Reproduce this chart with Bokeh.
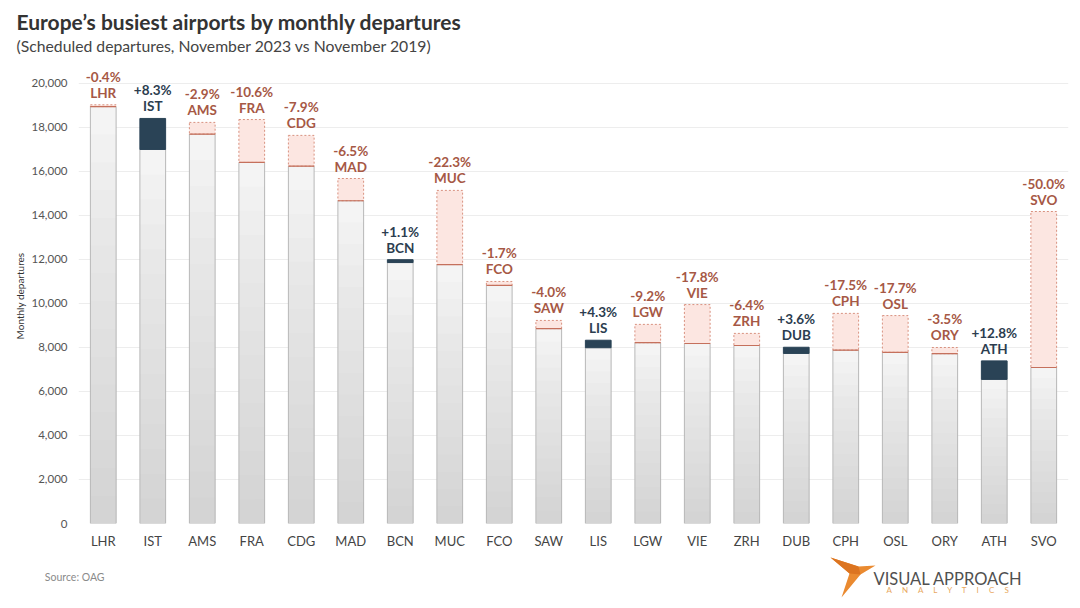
from bokeh.plotting import figure
from bokeh.layouts import column
from bokeh.models import FactorRange, Range1d, FixedTicker, NumeralTickFormatter, Title
from bokeh.core.properties import value
from bokeh.embed import file_html
from bokeh.resources import INLINE

airports = ["LHR", "IST", "AMS", "FRA", "CDG", "MAD", "BCN", "MUC", "FCO", "SAW",
            "LIS", "LGW", "VIE", "ZRH", "DUB", "CPH", "OSL", "ORY", "ATH", "SVO"]
dep_2019 = [19030, 17000, 18230, 18360, 17640, 15680, 11860, 15140, 11000, 9230,
            7990, 9050, 9950, 8640, 7730, 9550, 9450, 8000, 6550, 14180]
dep_2023 = [18950, 18410, 17700, 16410, 16240, 14670, 11990, 11770, 10820, 8860,
            8330, 8220, 8180, 8090, 8010, 7880, 7780, 7720, 7390, 7090]
pct_labels = ["-0.4%", "+8.3%", "-2.9%", "-10.6%", "-7.9%", "-6.5%", "+1.1%", "-22.3%", "-1.7%", "-4.0%",
              "+4.3%", "-9.2%", "-17.8%", "-6.4%", "+3.6%", "-17.5%", "-17.7%", "-3.5%", "+12.8%", "-50.0%"]
y_ticks = [0, 2000, 4000, 6000, 8000, 10000, 12000, 14000, 16000, 18000, 20000]

FONT = value("Lato")
RED_TXT = "#a65845"
NAVY_TXT = "#2c3d4f"
NAVY = "#2a4356"
W = 0.52
FIG_W = 1072
LEFT, RIGHT = 78, 4

p = figure(width=FIG_W, height=552, x_range=FactorRange(*airports), y_range=Range1d(0, 20680),
           output_backend="svg", toolbar_location=None,
           min_border_left=LEFT, min_border_right=RIGHT, min_border_top=68, min_border_bottom=29)
p.outline_line_color = None
p.xgrid.grid_line_color = None
p.ygrid.grid_line_color = "#ededed"
p.ygrid.ticker = FixedTicker(ticks=y_ticks)

p.add_layout(Title(text="(Scheduled departures, November 2023 vs November 2019)", align="left",
                   offset=-62, standoff=28, text_font="Lato", text_font_size="15.75px",
                   text_font_style="normal", text_color="#444444"), "above")
p.add_layout(Title(text="Europe\u2019s busiest airports by monthly departures", align="left",
                   offset=-62, standoff=-28, text_font="Lato", text_font_size="21px",
                   text_font_style="bold", text_color="#333333"), "above")

p.yaxis.ticker = FixedTicker(ticks=y_ticks)
p.yaxis.formatter = NumeralTickFormatter(format="0,0")
p.yaxis.axis_line_color = None
p.yaxis.major_tick_line_color = None
p.yaxis.minor_tick_line_color = None
p.yaxis.major_label_text_font = "Lato"
p.yaxis.major_label_text_font_size = "11.5px"
p.yaxis.major_label_text_color = "#555555"
p.yaxis.major_label_standoff = 5
p.yaxis.axis_label = "Monthly departures"
p.yaxis.axis_label_text_font = "Lato"
p.yaxis.axis_label_text_font_size = "10px"
p.yaxis.axis_label_text_font_style = "normal"
p.yaxis.axis_label_text_color = "#333333"
p.yaxis.axis_label_standoff = 3

p.xaxis.axis_line_color = None
p.xaxis.major_tick_line_color = None
p.xaxis.minor_tick_line_color = None
p.xaxis.major_label_text_font = "Lato"
p.xaxis.major_label_text_font_size = "13px"
p.xaxis.major_label_text_color = "#444444"
p.xaxis.major_label_standoff = 3

base_top = [min(a, b) for a, b in zip(dep_2019, dep_2023)]
peak = [max(a, b) for a, b in zip(dep_2019, dep_2023)]

# grey bars with a soft vertical gradient
p.vbar(x=airports, top=base_top, width=W, fill_color="#f4f4f4", line_color=None)
N = 14
for i in range(1, N + 1):
    p.vbar(x=airports, top=[b * i / (N + 1) for b in base_top], width=W,
           fill_color="#b8b8b8", fill_alpha=0.043, line_color=None)
p.vbar(x=airports, top=base_top, width=W, fill_color=None, line_color="#b8b8b8", line_width=1)

dec = [i for i in range(len(airports)) if dep_2023[i] < dep_2019[i]]
inc = [i for i in range(len(airports)) if dep_2023[i] >= dep_2019[i]]

p.vbar(x=[airports[i] for i in dec], bottom=[dep_2023[i] for i in dec], top=[dep_2019[i] for i in dec],
       width=W, fill_color="#fce6e1", line_color="#d8917f", line_dash="2 2", line_width=1)
p.vbar(x=[airports[i] for i in dec], bottom=[dep_2023[i] for i in dec], top=[dep_2023[i] for i in dec],
       width=W, fill_color=None, line_color="#c5705c", line_width=1.2)

p.vbar(x=[airports[i] for i in inc], bottom=[dep_2019[i] for i in inc], top=[dep_2023[i] for i in inc],
       width=W, fill_color=NAVY, line_color=NAVY, line_width=1)

colors = [RED_TXT if dep_2023[i] < dep_2019[i] else NAVY_TXT for i in range(len(airports))]
p.text(x=airports, y=peak, text=airports, y_offset=-12, text_align="center", text_baseline="alphabetic",
       text_font=FONT, text_font_style="bold", text_font_size="13.5px", text_color=colors)
p.text(x=airports, y=peak, text=pct_labels, y_offset=-28, text_align="center", text_baseline="alphabetic",
       text_font=FONT, text_font_style="bold", text_font_size="13.5px", text_color=colors)

# ---- footer strip (page coordinates) ----
foot = figure(width=FIG_W, height=48, x_range=Range1d(LEFT, FIG_W - RIGHT), y_range=Range1d(600, 552),
              output_backend="svg", toolbar_location=None, x_axis_location=None,
              min_border_left=LEFT, min_border_right=RIGHT, min_border_top=0, min_border_bottom=0)
foot.outline_line_color = None
foot.grid.grid_line_color = None
foot.yaxis.ticker = FixedTicker(ticks=[576])
foot.yaxis.major_label_overrides = {576: "Source: OAG"}
foot.yaxis.axis_line_color = None
foot.yaxis.major_tick_line_color = None
foot.yaxis.minor_tick_line_color = None
foot.yaxis.major_label_text_font = "Lato"
foot.yaxis.major_label_text_font_size = "10.5px"
foot.yaxis.major_label_text_color = "#8a8a8a"
foot.yaxis.major_label_standoff = -32

analytics = ("\u00a0" * 5).join("ANALYTICS")
foot.text(x=[873], y=[578], text=["VISUAL APPROACH"], text_font=FONT, text_font_size="16.5px",
          text_color="#505050", text_baseline="alphabetic")
foot.text(x=[886], y=[589], text=[analytics], text_font=FONT,
          text_font_size="8px", text_color="#e8a860", text_baseline="alphabetic")
foot.patch(x=[830, 858, 875, 860, 841, 849], y=[557, 566, 565, 574, 597, 573],
           fill_color="#ea8a30", line_color=None)
foot.patch(x=[830, 858, 860, 849], y=[557, 566, 574, 573], fill_color="#dc7420", line_color=None)

layout = column(p, foot, spacing=0)
open("out.html", "w").write(file_html(layout, INLINE))
